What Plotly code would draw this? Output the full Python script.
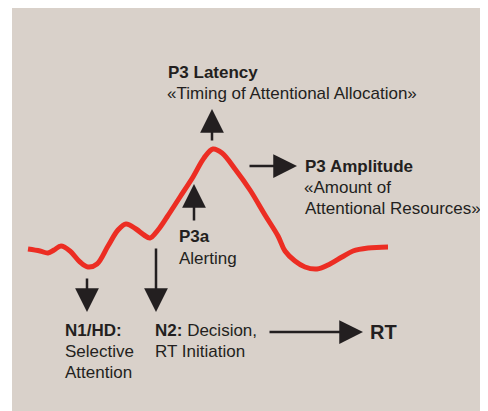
import plotly.graph_objects as go

# ERP waveform (horizontal position, vertical position; y grows downward)
curve_x = [28, 40, 48, 54, 61, 70, 80, 88, 97, 108, 118, 126, 136, 144, 150, 158, 167, 180, 193, 204, 213, 222, 235, 250, 265, 278, 285, 295, 305, 317, 330, 342, 353, 368, 388]
curve_y = [249, 251, 253, 250, 246, 251, 262, 267, 264, 246, 230, 224, 229, 235, 238, 230, 217, 197, 177, 158, 149, 153, 169, 190, 215, 236, 251, 261, 267, 269, 264, 257, 251, 248, 247]

# arrows: (tip_x, tip_y, tail_x, tail_y)
arrows = [
    (212, 109, 212, 142),   # P3 latency
    (297, 166, 248, 166),   # P3 amplitude
    (194, 184, 194, 222),   # P3a
    (87, 312, 87, 277),     # N1/HD
    (156, 312, 156, 247),   # N2
    (363, 332, 268, 332),   # RT
]

# labels: (x, y, text, size)
labels = [
    (166, 72, "<b>P3 Latency</b>", 17),
    (165, 93, "«Timing of Attentional Allocation»", 17),
    (303, 166, "<b>P3 Amplitude</b>", 17),
    (302, 187, "«Amount of", 17),
    (303, 208, "Attentional Resources»", 17),
    (177, 236, "<b>P3a</b>", 17),
    (177, 258, "Alerting", 17),
    (63, 330, "<b>N1/HD:</b>", 17),
    (63, 351, "Selective", 17),
    (63, 372, "Attention", 17),
    (153, 330, "<b>N2:</b> Decision,", 17),
    (153, 351, "RT Initiation", 17),
    (368, 332, "<b>RT</b>", 20),
]

TEXT = "#231f20"
fig = go.Figure()
fig.add_trace(go.Scatter(
    x=curve_x, y=curve_y, mode="lines",
    line=dict(color="#ec2d23", width=5, shape="spline", smoothing=1.0),
    hoverinfo="skip", showlegend=False,
))

for tx, ty, sx, sy in arrows:
    fig.add_annotation(
        x=tx, y=ty, ax=sx, ay=sy, xref="x", yref="y", axref="x", ayref="y",
        text="", showarrow=True, arrowhead=2, arrowsize=1.9, arrowwidth=2.5,
        arrowcolor=TEXT,
    )

for x, y, t, s in labels:
    fig.add_annotation(
        x=x, y=y, xref="x", yref="y", text=t, showarrow=False,
        xanchor="left", yanchor="middle",
        font=dict(family="Liberation Sans, Arial, sans-serif", size=s, color=TEXT),
    )

# the page body adds an 8px margin, so the figure is 8px smaller and the margins are reduced
fig.update_layout(
    width=480, height=403,
    margin=dict(l=4, r=0, t=0, b=0),
    paper_bgcolor="white",
    plot_bgcolor="#d9d1ca",
    xaxis=dict(range=[12, 488], visible=False, fixedrange=True),
    yaxis=dict(range=[411, 8], visible=False, fixedrange=True),
    showlegend=False,
)

fig.write_html("out.html")
